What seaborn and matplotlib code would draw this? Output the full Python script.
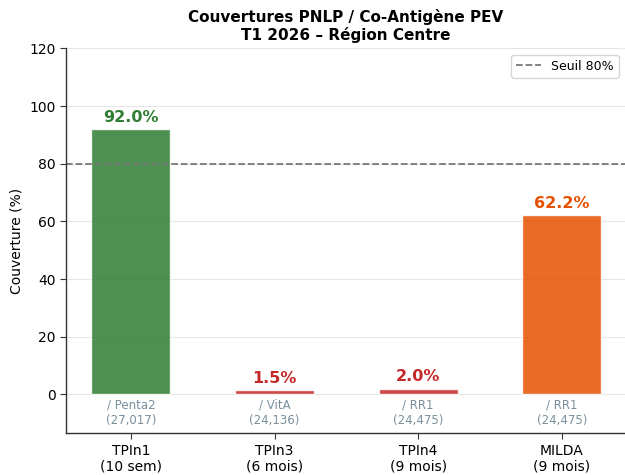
import matplotlib
matplotlib.use("Agg")
import matplotlib.pyplot as plt
import pandas as pd
import seaborn as sns

categories = ["TPIn1\n(10 sem)", "TPIn3\n(6 mois)", "TPIn4\n(9 mois)", "MILDA\n(9 mois)"]
coverage = [92.0, 1.5, 2.0, 62.2]
denominators = ["/ Penta2\n(27,017)", "/ VitA\n(24,136)", "/ RR1\n(24,475)", "/ RR1\n(24,475)"]
bar_colors = ["#2e7d32", "#c62828", "#c62828", "#e65100"]
text_colors = ["#2e7d32", "#c62828", "#c62828", "#e65100"]
threshold = 80

df = pd.DataFrame({"cat": categories, "cov": coverage})

sns.set_style("white", rc={"text.color": "black", "axes.labelcolor": "black",
                           "xtick.color": "black", "ytick.color": "black"})
fig = plt.figure(figsize=(6.25, 4.75), dpi=100)
ax = fig.add_axes([0.106, 0.088, 0.894, 0.81])

sns.barplot(data=df, x="cat", y="cov", hue="cat", palette=bar_colors, saturation=1,
            legend=False, width=0.55, alpha=0.85, edgecolor="white", ax=ax)

ax.axhline(threshold, color="#777777", linestyle="--", linewidth=1.3, label="Seuil 80%")

for i, (v, d, c) in enumerate(zip(coverage, denominators, text_colors)):
    ax.text(i, v + 1.5, f"{v:.1f}%", ha="center", va="bottom",
            fontsize=11.5, fontweight="bold", color=c)
    ax.text(i, -1.5, d, ha="center", va="top", fontsize=8.5, color="#78909c")

ax.set_ylim(-13.5, 120)
ax.set_xlim(-0.45, 3.44)
ax.set_yticks(range(0, 121, 20))
ax.set_xlabel("")
ax.set_ylabel("Couverture (%)", fontsize=10)
ax.tick_params(axis="both", labelsize=10, length=4, color="#333333")
ax.tick_params(axis="both", which="major", bottom=True, left=True)
ax.grid(axis="y", color="#e6e6e6", linewidth=0.8)
ax.set_axisbelow(True)
for s in ["top", "right"]:
    ax.spines[s].set_visible(False)
for s in ["left", "bottom"]:
    ax.spines[s].set_color("#333333")
    ax.spines[s].set_linewidth(1.0)

ax.legend(loc="upper right", fontsize=9, frameon=True)
ax.set_title("Couvertures PNLP / Co-Antigène PEV\nT1 2026 – Région Centre",
             fontsize=11, fontweight="bold", pad=6)

fig.savefig("out.png", dpi=100)
